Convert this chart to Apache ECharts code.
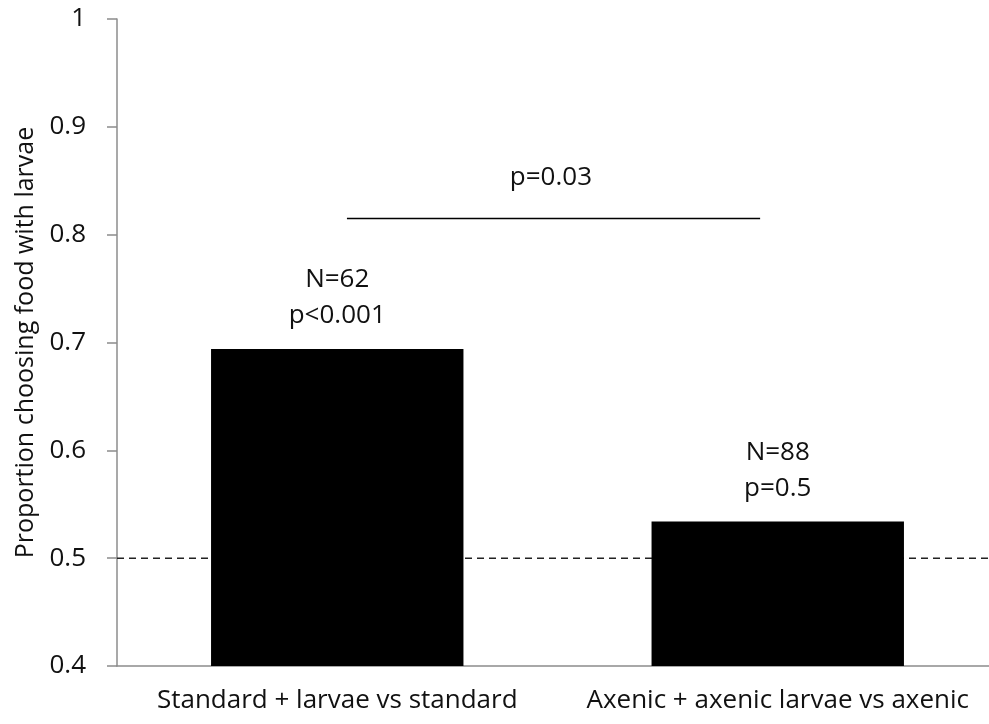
<!DOCTYPE html>
<html>
<head>
<meta charset="utf-8">
<script src="https://cdn.jsdelivr.net/npm/echarts@6/dist/echarts.min.js"></script>
<style>
  html, body { margin: 0; padding: 0; background: #fff; }
  #main { width: 989px; height: 724px; }
</style>
</head>
<body>
<div id="main"></div>
<script>
// data
const categories = ["Standard + larvae vs standard", "Axenic + axenic larvae vs axenic"];
const proportions = [0.694, 0.534];
const sampleSizes = [62, 88];
const pValues = ["p<0.001", "p=0.5"];
const chanceLevel = 0.5;
const comparisonLevel = 0.815;
const comparisonP = "p=0.03";

const font = "Open Sans";
const chart = echarts.init(document.getElementById("main"));

const option = {
  animation: false,
  grid: { left: 117, top: 19, bottom: 58, width: 881, outerBoundsMode: "none", containLabel: false },
  xAxis: [
    {
      type: "category",
      data: categories,
      axisLine: { lineStyle: { color: "#8c8c8c", width: 1.5 } },
      axisTick: { show: false },
      axisLabel: { color: "#111", fontSize: 26, fontFamily: font, margin: 22, interval: 0, hideOverlap: false },
    },
    { type: "value", min: 0, max: 2, show: false },
  ],
  yAxis: {
    type: "value",
    min: 0.4,
    max: 1,
    interval: 0.1,
    name: "Proportion choosing food with larvae",
    nameLocation: "middle",
    nameGap: 76,
    nameTextStyle: { color: "#111", fontSize: 25, fontFamily: font },
    axisLine: { show: true, lineStyle: { color: "#8c8c8c", width: 1.5 } },
    axisTick: { show: true, length: 10, lineStyle: { color: "#8c8c8c", width: 1.5 } },
    axisLabel: { color: "#111", fontSize: 26, fontFamily: font, margin: 31 },
    splitLine: { show: false },
  },
  series: [
    {
      type: "line",
      xAxisIndex: 1,
      z: 1,
      symbol: "none",
      lineStyle: { color: "#222", width: 1.5, type: [7, 5] },
      data: [[0, chanceLevel], [2, chanceLevel]],
    },
    {
      type: "bar",
      z: 2,
      data: proportions,
      barCategoryGap: "42.7%",
      itemStyle: { color: "#000" },
      label: {
        show: true,
        position: "top",
        distance: 15,
        color: "#111",
        fontSize: 26,
        fontFamily: font,
        lineHeight: 36,
        formatter: (p) => "N=" + sampleSizes[p.dataIndex] + "\n" + pValues[p.dataIndex],
      },
    },
    {
      type: "line",
      xAxisIndex: 1,
      z: 3,
      symbol: "circle",
      symbolSize: 0,
      showSymbol: true,
      lineStyle: { color: "#000", width: 1.5 },
      label: {
        show: true,
        position: "top",
        distance: 28,
        color: "#111",
        fontSize: 26,
        fontFamily: font,
        formatter: (p) => (p.dataIndex === 1 ? comparisonP : ""),
      },
      data: [[0.522, comparisonLevel], [0.985, comparisonLevel], [1.46, comparisonLevel]],
    },
  ],
};
chart.setOption(option);
</script>
</body>
</html>
